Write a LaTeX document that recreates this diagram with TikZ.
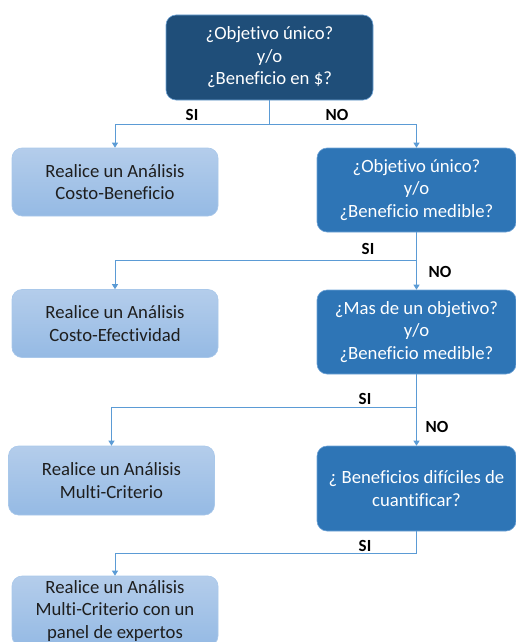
\documentclass[tikz,border=0pt]{standalone}
\usepackage{fontspec}
\setmainfont{Carlito}[Ligatures=NoCommon]
\usetikzlibrary{arrows.meta, positioning}
\definecolor{qDark}{HTML}{1F4E79}
\definecolor{qMid}{HTML}{2E75B6}
\definecolor{qEdge}{HTML}{6FA3D6}
\definecolor{lTop}{HTML}{B4CDEB}
\definecolor{lBot}{HTML}{95BAE4}
\definecolor{lEdge}{HTML}{A9C8EA}
\definecolor{connBlue}{HTML}{5B9BD5}
\definecolor{txtDark}{HTML}{1E1E1E}
\tikzset{
  boxtxt/.style   = {font=\fontsize{18.7}{22.5}\selectfont, align=center, inner sep=0pt},
  topq/.style     = {boxtxt, rounded corners=10pt, fill=qDark, draw=qEdge,
                     line width=0.6pt, text=white, minimum width=207pt, minimum height=85pt},
  midq/.style     = {boxtxt, rounded corners=10pt, fill=qMid, draw=qEdge,
                     line width=0.6pt, text=white, minimum width=199pt, minimum height=84pt},
  resbox/.style   = {boxtxt, rounded corners=10pt, top color=lTop, bottom color=lBot,
                     draw=lEdge, line width=0.6pt, text=txtDark, minimum width=206pt,
                     minimum height=68pt},
  conn/.style     = {-{Triangle[length=5pt, width=6pt]}, connBlue, line width=0.9pt},
  link/.style     = {connBlue, line width=0.9pt},
  ans/.style      = {font=\fontsize{17}{20}\selectfont\bfseries, text=black},
}
\begin{document}
\begin{tikzpicture}[x=1pt, y=-1pt]
  \clip (0,0) rectangle (516,642);
  \useasboundingbox (0,0) rectangle (516,642);

  % questions on the right, results on the left
  \node[topq] (q1) at (269.5,57.5) {¿Objetivo único?\\y/o\\¿Beneficio en \$?};
  \node[resbox] (cb) at (115,182) {Realice un Análisis\\Costo-Beneficio};
  \node[midq] (q2) at (416.5,190) {¿Objetivo único?\\y/o\\¿Beneficio medible?};
  \node[resbox] (ce) at (115,323.5) {Realice un Análisis\\Costo-Efectividad};
  \node[midq] (q3) at (416.5,332) {¿Mas de un objetivo?\\y/o\\¿Beneficio medible?};
  \node[resbox, minimum height=69pt] (mc) at (111.5,480.5) {Realice un Análisis\\Multi-Criterio};
  \node[midq, minimum height=85pt] (q4) at (416.5,488.5) {¿ Beneficios difíciles de\\cuantificar?};
  \node[resbox, minimum height=70pt] (mcp) at (115,611)
    {Realice un Análisis\\Multi-Criterio con un\\panel de expertos};

  \coordinate (j1) at (269.5,124);
  \coordinate (j2) at (416.5,260);
  \coordinate (j3) at (416.5,407);
  \coordinate (j4) at (416.5,553);

  \draw[link] (q1.south) -- (j1);
  \draw[conn] (j1) -| (cb.north);
  \draw[conn] (j1) -| (q2.north);
  \draw[link] (q2.south) -- (j2);
  \draw[conn] (j2) -| (ce.north);
  \draw[conn] (j2) -- (q3.north);
  \draw[link] (q3.south) -- (j3);
  \draw[conn] (j3) -| (mc.north);
  \draw[conn] (j3) -- (q4.north);
  \draw[link] (q4.south) -- (j4);
  \draw[conn] (j4) -| (mcp.north);

  \node[ans] (si1) at (192,115) {SI};
  \node[ans] (no1) at (337,115) {NO};
  \node[ans] (si2) at (368,249) {SI};
  \node[ans] (no2) at (440,272) {NO};
  \node[ans] (si3) at (365,399) {SI};
  \node[ans] (no3) at (437,427) {NO};
  \node[ans] (si4) at (365,546) {SI};
\end{tikzpicture}
\end{document}
